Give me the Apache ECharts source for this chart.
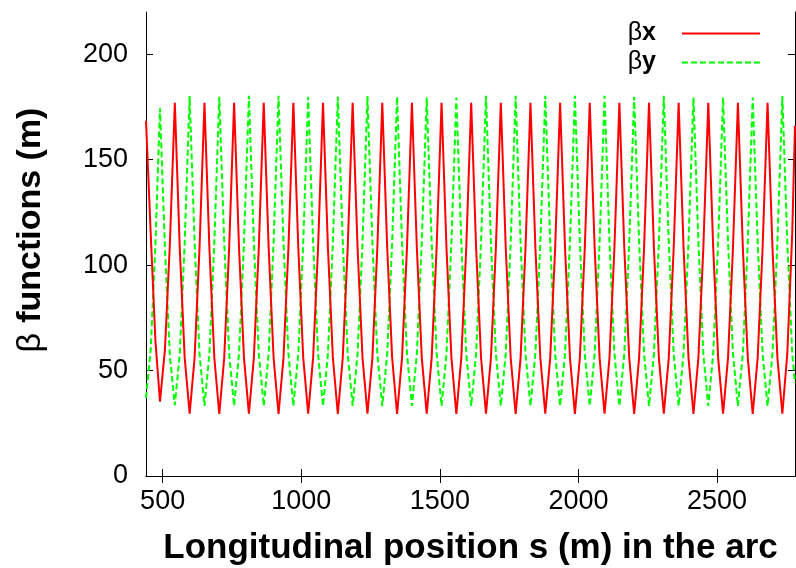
<!DOCTYPE html>
<html>
<head>
<meta charset="utf-8">
<script src="https://cdn.jsdelivr.net/npm/echarts@6/dist/echarts.min.js"></script>
<style>
html,body{margin:0;padding:0;background:#fff;}
#chart{width:796px;height:568px;}
</style>
</head>
<body>
<div id="chart"></div>
<script>
// Longitudinal position s (m)
const sPos = [
  440, 457, 474,
  490.5, 508.3, 526.1,     // E0
  544.0, 561.8, 579.6,     // E1
  597.4, 615.2, 633.0,     // E2
  650.9, 668.7, 686.5,     // E3
  704.3, 722.1, 739.9,     // E4
  757.8, 775.6, 793.4,     // E5
  811.2, 829.0, 846.8,     // E6
  864.7, 882.5, 900.3,     // E7
  918.1, 935.9, 953.7,     // E8
  971.6, 989.4, 1007.2,    // E9
  1025.0, 1042.8, 1060.6,  // E10
  1078.5, 1096.3, 1114.1,  // E11
  1131.9, 1149.7, 1167.5,  // E12
  1185.4, 1203.2, 1221.0,  // E13
  1238.8, 1256.6, 1274.4,  // E14
  1292.3, 1310.1, 1327.9,  // E15
  1345.7, 1363.5, 1381.3,  // E16
  1399.2, 1417.0, 1434.8,  // E17
  1452.6, 1470.4, 1488.2,  // E18
  1506.1, 1523.9, 1541.7,  // E19
  1559.5, 1577.3, 1595.1,  // E20
  1613.0, 1630.8, 1648.6,  // E21
  1666.4, 1684.2, 1702.0,  // E22
  1719.9, 1737.7, 1755.5,  // E23
  1773.3, 1791.1, 1808.9,  // E24
  1826.8, 1844.6, 1862.4,  // E25
  1880.2, 1898.0, 1915.8,  // E26
  1933.7, 1951.5, 1969.3,  // E27
  1987.1, 2004.9, 2022.7,  // E28
  2040.6, 2058.4, 2076.2,  // E29
  2094.0, 2111.8, 2129.6,  // E30
  2147.5, 2165.3, 2183.1,  // E31
  2200.9, 2218.7, 2236.5,  // E32
  2254.4, 2272.2, 2290.0,  // E33
  2307.8, 2325.6, 2343.4,  // E34
  2361.3, 2379.1, 2396.9,  // E35
  2414.7, 2432.5, 2450.3,  // E36
  2468.2, 2486.0, 2503.8,  // E37
  2521.6, 2539.4, 2557.2,  // E38
  2575.1, 2592.9, 2610.7,  // E39
  2628.5, 2646.3, 2664.1,  // E40
  2682.0, 2699.8, 2717.6,  // E41
  2735.4, 2753.2, 2771.0,  // E42
  2781
];
// beta_x (m)
const betaX = [
  168.5, 115, 64,
  35.2, 60, 110,     // E0
  177, 108, 56,      // E1
  29.5, 56, 108,     // E2
  177, 108, 56,      // E3
  29.4, 56, 108,     // E4
  177, 108, 56,      // E5
  29.5, 56, 108,     // E6
  177, 108, 56,      // E7
  29.4, 56, 108,     // E8
  177, 108, 56,      // E9
  29.5, 56, 108,     // E10
  177, 108, 56,      // E11
  29.4, 56, 108,     // E12
  177, 108, 56,      // E13
  29.5, 56, 108,     // E14
  177, 108, 56,      // E15
  29.4, 56, 108,     // E16
  177, 108, 56,      // E17
  29.5, 56, 108,     // E18
  177, 108, 56,      // E19
  29.4, 56, 108,     // E20
  177, 108, 56,      // E21
  29.5, 56, 108,     // E22
  177, 108, 56,      // E23
  29.4, 56, 108,     // E24
  177, 108, 56,      // E25
  29.5, 56, 108,     // E26
  177, 108, 56,      // E27
  29.4, 56, 108,     // E28
  177, 108, 56,      // E29
  29.5, 56, 108,     // E30
  177, 108, 56,      // E31
  29.4, 56, 108,     // E32
  177, 108, 56,      // E33
  29.5, 56, 108,     // E34
  177, 108, 56,      // E35
  29.4, 56, 108,     // E36
  177, 108, 56,      // E37
  29.5, 56, 108,     // E38
  177, 108, 56,      // E39
  29.4, 56, 108,     // E40
  177, 108, 56,      // E41
  29.5, 58, 115,     // E42
  166
];
// beta_y (m)
const betaY = [
  37, 60, 110,
  174.3, 108, 57,    // E0
  33.6, 58, 111,     // E1
  180.1, 111, 58,    // E2
  33.2, 58, 111,     // E3
  179.8, 111, 58,    // E4
  33.2, 58, 111,     // E5
  180.3, 111, 58,    // E6
  33.2, 58, 111,     // E7
  180.3, 111, 58,    // E8
  33.2, 58, 111,     // E9
  179.8, 111, 58,    // E10
  33.2, 58, 111,     // E11
  179.8, 111, 58,    // E12
  33.2, 58, 111,     // E13
  180.1, 111, 58,    // E14
  33.2, 58, 111,     // E15
  179.8, 111, 58,    // E16
  33.2, 58, 111,     // E17
  179.5, 111, 58,    // E18
  33.2, 58, 111,     // E19
  179.5, 111, 58,    // E20
  33.2, 58, 111,     // E21
  180.3, 111, 58,    // E22
  33.2, 58, 111,     // E23
  180.3, 111, 58,    // E24
  33.2, 58, 111,     // E25
  180.3, 111, 58,    // E26
  33.2, 58, 111,     // E27
  180.3, 111, 58,    // E28
  33.2, 58, 111,     // E29
  180.3, 111, 58,    // E30
  33.2, 58, 111,     // E31
  179.8, 111, 58,    // E32
  33.2, 58, 111,     // E33
  180.3, 111, 58,    // E34
  33.2, 58, 111,     // E35
  179.5, 111, 58,    // E36
  33.2, 58, 111,     // E37
  179.5, 111, 58,    // E38
  33.2, 58, 111,     // E39
  179.5, 111, 58,    // E40
  33.2, 58, 111,     // E41
  180.1, 111, 58,    // E42
  44
];
const xTicks = [500, 1000, 1500, 2000, 2500];
const yTicks = [0, 50, 100, 150, 200];
const seriesNames = ['βx', 'βy'];

const FONT = '"Liberation Sans", Arial, Helvetica, sans-serif';
const chart = echarts.init(document.getElementById('chart'), null, {renderer: 'canvas'});

const axisLineStyle = {show: true, lineStyle: {color: '#000', width: 1}};
const tickStyle = (vals) => ({show: true, inside: true, length: 7, customValues: vals, lineStyle: {color: '#000', width: 1}});
const plain = (v) => String(v);

chart.setOption({
  animation: false,
  backgroundColor: '#fff',
  grid: {left: 146, right: 1, top: 12, bottom: 92, containLabel: false, outerBoundsMode: 'none'},
  legend: {
    orient: 'vertical',
    right: 35,
    top: 21,
    padding: 0,
    align: 'right',
    itemWidth: 78,
    itemHeight: 14,
    itemGap: 4,
    itemStyle: {opacity: 0},
    data: seriesNames,
    formatter: function (name) {
      return name === 'βx' ? '{a|β}{b|x}{g|}' : '{a|β}{b|y}{g|}';
    },
    textStyle: {
      rich: {
        a: {fontFamily: FONT, fontSize: 25, fontWeight: 'normal', color: '#000', lineHeight: 26},
        b: {fontFamily: FONT, fontSize: 25, fontWeight: 'bold', color: '#000', lineHeight: 26},
        g: {width: 21, lineHeight: 26}
      }
    }
  },
  xAxis: [{
    type: 'value', min: 440, max: 2781, position: 'bottom',
    axisLine: axisLineStyle,
    axisTick: tickStyle(xTicks),
    axisLabel: {show: true, customValues: xTicks, formatter: plain, margin: 12, fontFamily: FONT, fontSize: 27, color: '#000'},
    splitLine: {show: false},
    name: 'Longitudinal position s (m) in the arc',
    nameLocation: 'middle',
    nameGap: 55,
    nameTextStyle: {fontFamily: FONT, fontSize: 35, fontWeight: 'bold', color: '#000'}
  }, {
    type: 'value', min: 440, max: 2781, position: 'top',
    axisLine: axisLineStyle,
    axisTick: tickStyle(xTicks),
    axisLabel: {show: false},
    splitLine: {show: false}
  }],
  yAxis: [{
    type: 'value', min: 0, max: 220, position: 'left',
    axisLine: axisLineStyle,
    axisTick: tickStyle(yTicks),
    axisLabel: {show: true, customValues: yTicks, formatter: plain, margin: 18, fontFamily: FONT, fontSize: 27, color: '#000'},
    splitLine: {show: false},
    name: '{a|β}{s|}{b|functions (m)}',
    nameLocation: 'middle',
    nameRotate: 90,
    nameGap: 98,
    nameTextStyle: {
      padding: [0, 0, 0, 28],
      rich: {
        a: {fontFamily: FONT, fontSize: 34, fontWeight: 'normal', color: '#000'},
        s: {width: 10},
        b: {fontFamily: FONT, fontSize: 34, fontWeight: 'bold', color: '#000'}
      }
    }
  }, {
    type: 'value', min: 0, max: 220, position: 'right',
    axisLine: axisLineStyle,
    axisTick: tickStyle(yTicks),
    axisLabel: {show: false},
    splitLine: {show: false}
  }],
  series: [{
    name: seriesNames[0],
    type: 'line',
    xAxisIndex: 0, yAxisIndex: 0,
    showSymbol: false, symbol: 'none',
    data: sPos.map((s, i) => [s, betaX[i]]),
    lineStyle: {color: '#ff0000', width: 2},
    itemStyle: {color: '#ff0000'},
    z: 3
  }, {
    name: seriesNames[1],
    type: 'line',
    xAxisIndex: 0, yAxisIndex: 0,
    showSymbol: false, symbol: 'none',
    data: sPos.map((s, i) => [s, betaY[i]]),
    lineStyle: {color: '#00ff00', width: 2, type: [6, 3]},
    itemStyle: {color: '#00ff00'},
    z: 2
  }]
});
</script>
</body>
</html>
